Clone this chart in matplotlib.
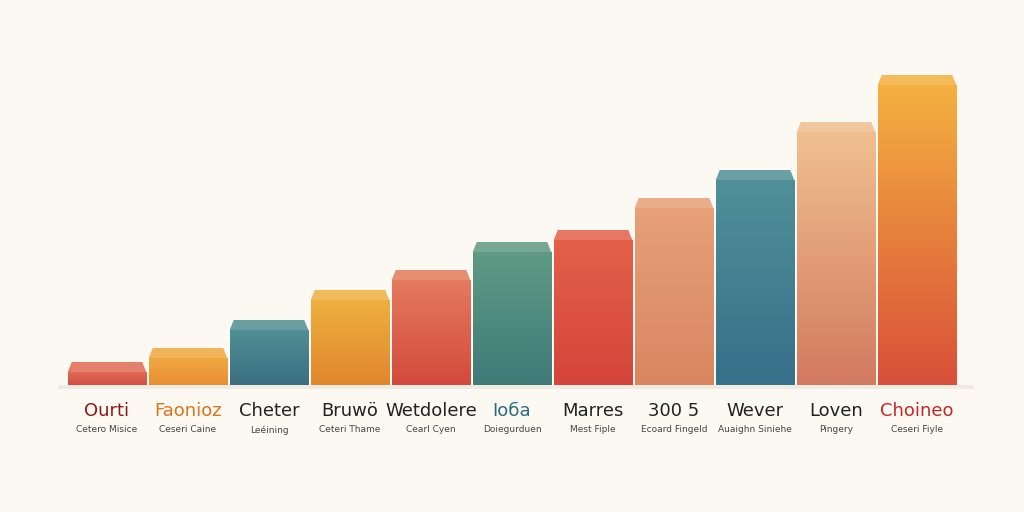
import numpy as np
import matplotlib.pyplot as plt
from matplotlib.patches import Polygon, Rectangle
from matplotlib.colors import LinearSegmentedColormap, to_rgb

names = ["Ourti", "Faonioz", "Cheter", "Bruwö", "Wetdolere", "Ioба", "Marres",
         "300 5", "Wever", "Loven", "Choineo"]
subs = ["Cetero Misice", "Ceseri Caine", "Leéining", "Ceteri Thame", "Cearl Cyen",
        "Doiegurduen", "Mest Fiple", "Ecoard Fingeld", "Auaighn Siniehe", "Pingery", "Ceseri Fiyle"]
values = [13, 27, 55, 85, 105, 133, 145, 177, 205, 253, 300]
top_colors = ["#e06a55", "#f0a840", "#4f8f95", "#eeb040", "#e47a5e", "#5f9a85",
              "#e4604a", "#e6a07a", "#4f9098", "#f0c090", "#f4b040"]
bot_colors = ["#d24e45", "#e98e35", "#3b6f80", "#e0862c", "#d34a3c", "#3f7a78",
              "#d5443a", "#d98660", "#36708a", "#d27a60", "#d9503a"]
name_colors = ["#8b1a1a", "#d9751f", "#222222", "#222222", "#222222", "#2a6e7e",
               "#222222", "#222222", "#222222", "#222222", "#c0282a"]

fig = plt.figure(figsize=(10.24, 5.12), dpi=100)
fig.patch.set_facecolor("#fbf9f2")
ax = fig.add_axes([0, 0, 1, 1])
ax.set_facecolor("#fbf9f2")
ax.axis("off")

w = 0.485
dx, dy = 0.05, 10
# soft floor shadow
ax.fill_between([-0.6, 10.7], -4, 0, color="#e8e2d8", alpha=0.6, zorder=1, lw=0)
for i, v in enumerate(values):
    x0, x1 = i - w, i + w
    cmap = LinearSegmentedColormap.from_list("g", [to_rgb(bot_colors[i]), to_rgb(top_colors[i])])
    grad = np.linspace(0, 1, 100).reshape(-1, 1)
    rect = Rectangle((x0, 0), 2 * w, v, transform=ax.transData, facecolor="none")
    ax.add_patch(rect)
    im = ax.imshow(grad, cmap=cmap, origin="lower", aspect="auto",
                   extent=(x0, x1, 0, v), zorder=2)
    im.set_clip_path(rect)
    top = Polygon([(x0, v), (x1, v), (x1 - dx, v + dy), (x0 + dx, v + dy)],
                  facecolor=top_colors[i], edgecolor="none", alpha=0.85, zorder=3)
    ax.add_patch(top)
    ax.text(i, -26, names[i], ha="center", va="center", fontsize=13,
            color=name_colors[i])
    ax.text(i, -45, subs[i], ha="center", va="center", fontsize=6.5, color="#444444")

ax.set_aspect("auto")
ax.set_xlim(-107 / 81, (1024 - 107) / 81)
ax.set_ylim(-127, 385)
fig.savefig("out.png", dpi=100, facecolor=fig.get_facecolor())
